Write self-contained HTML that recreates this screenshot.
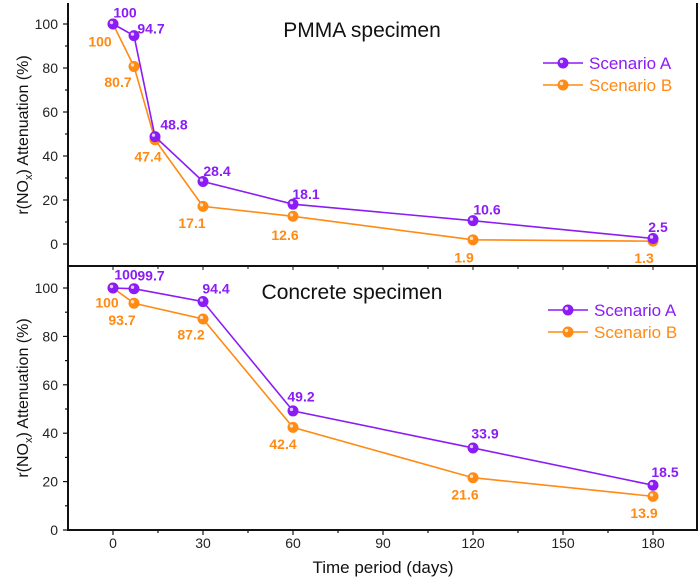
<!DOCTYPE html>
<html><head><meta charset="utf-8"><style>
body{margin:0;background:#fff;}
svg{display:block;font-family:"Liberation Sans",Arial,sans-serif;}
.lab{font-weight:bold;font-size:14px;text-anchor:middle;dominant-baseline:middle;}
.tick{font-size:14px;fill:#222;}
</style></head><body>
<svg id="c" width="700" height="579" viewBox="0 0 700 579"></svg>
<script>
// ---- data ----
const topDays = [0, 7, 14, 30, 60, 120, 180];
const topA = [100, 94.7, 48.8, 28.4, 18.1, 10.6, 2.5];
const topB = [100, 80.7, 47.4, 17.1, 12.6, 1.9, 1.3];
const botDays = [0, 7, 30, 60, 120, 180];
const botA = [100, 99.7, 94.4, 49.2, 33.9, 18.5];
const botB = [100, 93.7, 87.2, 42.4, 21.6, 13.9];
const xTicks = [0, 30, 60, 90, 120, 150, 180];
const yTicks = [0, 20, 40, 60, 80, 100];
// label offsets (styling)
const topAOff = [[12,-10],[17,-6],[19,-11],[14,-9],[13,-9],[14,-10],[5,-10]];
const topBOff = [[-13,19],[-16,17],[-7,18],[-11,18],[-8,20],[-9,19],[-9,18]];
const botAOff = [[13,-12],[17,-12],[13,-12],[8,-13],[12,-13],[12,-12]];
const botBOff = [[-6,16],[-12,18],[-12,17],[-10,18],[-8,18],[-9,18]];

const NS = "http://www.w3.org/2000/svg";
const svg = document.getElementById('c');
function mk(tag, attrs, parent) {
  const e = document.createElementNS(NS, tag);
  for (const k in attrs) e.setAttribute(k, attrs[k]);
  (parent || svg).appendChild(e);
  return e;
}
const PUR = "#8b1cf5", ORA = "#ff8a14";
const xs = d => 113 + (d - 0) * 3.0;
const yTop = v => 244 - v * 2.2;
const yBot = v => 530 - v * 2.42;

// frame
const fr = mk('g', {});


mk('line', {x1: 68, y1: 3, x2: 68, y2: 531, stroke: '#111', 'stroke-width': 2}, fr);
mk('line', {x1: 697, y1: 3, x2: 697, y2: 531, stroke: '#111', 'stroke-width': 2}, fr);
mk('line', {x1: 67, y1: 530, x2: 698, y2: 530, stroke: '#111', 'stroke-width': 2}, fr);
mk('line', {x1: 68, y1: 266, x2: 697, y2: 266, stroke: '#111', 'stroke-width': 2}, fr);

// y axes
function yAxis(yf, top, bottom, name) {
  const g = mk('g', {});
  
  
  for (let v = -10; v <= 110; v += 10) {
    const y = yf(v);
    if (y < top || y > bottom) continue;
    const major = v % 20 === 0;
    mk('line', {x1: 68 - (major ? 5 : 3), y1: y, x2: 68, y2: y, stroke: '#111', 'stroke-width': 1.2}, g);
  }
  yTicks.forEach(v => {
    const t = mk('text', {x: 58, y: yf(v) + 5, 'text-anchor': 'end', class: 'tick'}, g);
    t.textContent = v;
  });
}
yAxis(yTop, 4, 265, 'top-y-axis');
yAxis(yBot, 267, 530, 'bottom-y-axis');

// x axis
const xg = mk('g', {});


for (let d = -15; d <= 195; d += 15) {
  const x = xs(d);
  if (x <= 68 || x >= 697) continue;
  const major = d % 30 === 0;
  mk('line', {x1: x, y1: 530, x2: x, y2: 530 + (major ? 5 : 3), stroke: '#111', 'stroke-width': 1.2}, xg);
  mk('line', {x1: x, y1: 266, x2: x, y2: 266 + (major ? 4 : 3), stroke: '#111', 'stroke-width': 1}, xg);
}
xTicks.forEach(d => {
  const t = mk('text', {x: xs(d), y: 548, 'text-anchor': 'middle', class: 'tick'}, xg);
  t.textContent = d;
});
const xt = mk('text', {x: 383, y: 573, 'text-anchor': 'middle', 'font-size': 17, fill: '#111'});


xt.textContent = 'Time period  (days)';

// y titles
function yTitle(cy, name) {
  const t = mk('text', {x: 0, y: 0, transform: `translate(28,${cy}) rotate(-90)`, 'text-anchor': 'middle', 'font-size': 16, fill: '#111'});
  
  
  t.innerHTML = 'r(NO<tspan font-size="11" dy="4">x</tspan><tspan dy="-4">) Attenuation  (%)</tspan>';
}
yTitle(135, 'top-y-axis-title');
yTitle(398, 'bottom-y-axis-title');

// titles
const t1 = mk('text', {x: 362, y: 37, 'text-anchor': 'middle', 'font-size': 21, fill: '#111'});


t1.textContent = 'PMMA specimen';
const t2 = mk('text', {x: 352, y: 299, 'text-anchor': 'middle', 'font-size': 21, fill: '#111'});


t2.textContent = 'Concrete specimen';

function marker(g, x, y, col) {
  mk('circle', {cx: x, cy: y, r: 5.5, fill: col}, g);
  mk('circle', {cx: x - 1.5, cy: y - 1.5, r: 1.7, fill: '#fff', opacity: 0.75}, g);
}
function series(days, vals, yf, col, offs, name) {
  const g = mk('g', {});
  
  
  mk('polyline', {points: days.map((d, i) => xs(d) + ',' + yf(vals[i])).join(' '), fill: 'none', stroke: col, 'stroke-width': 1.6}, g);
  days.forEach((d, i) => {
    const x = xs(d), y = yf(vals[i]);
    marker(g, x, y, col);
    const t = mk('text', {x: x + offs[i][0], y: y + offs[i][1], class: 'lab', fill: col}, g);
    t.textContent = vals[i];
  });
}
series(topDays, topB, yTop, ORA, topBOff, 'pmma-scenario-b');
series(topDays, topA, yTop, PUR, topAOff, 'pmma-scenario-a');
series(botDays, botB, yBot, ORA, botBOff, 'concrete-scenario-b');
series(botDays, botA, yBot, PUR, botAOff, 'concrete-scenario-a');

function legend(x0, y0, name) {
  const g = mk('g', {});
  
  
  [['Scenario A', PUR], ['Scenario B', ORA]].forEach((e, i) => {
    const y = y0 + i * 22;
    mk('line', {x1: x0, y1: y, x2: x0 + 40, y2: y, stroke: e[1], 'stroke-width': 1.5}, g);
    marker(g, x0 + 20, y, e[1]);
    const t = mk('text', {x: x0 + 46, y: y + 6, 'font-size': 17, fill: e[1]}, g);
    t.textContent = e[0];
  });
}
legend(543, 63, 'pmma-legend');
legend(548, 310, 'concrete-legend');
</script>
</body></html>
